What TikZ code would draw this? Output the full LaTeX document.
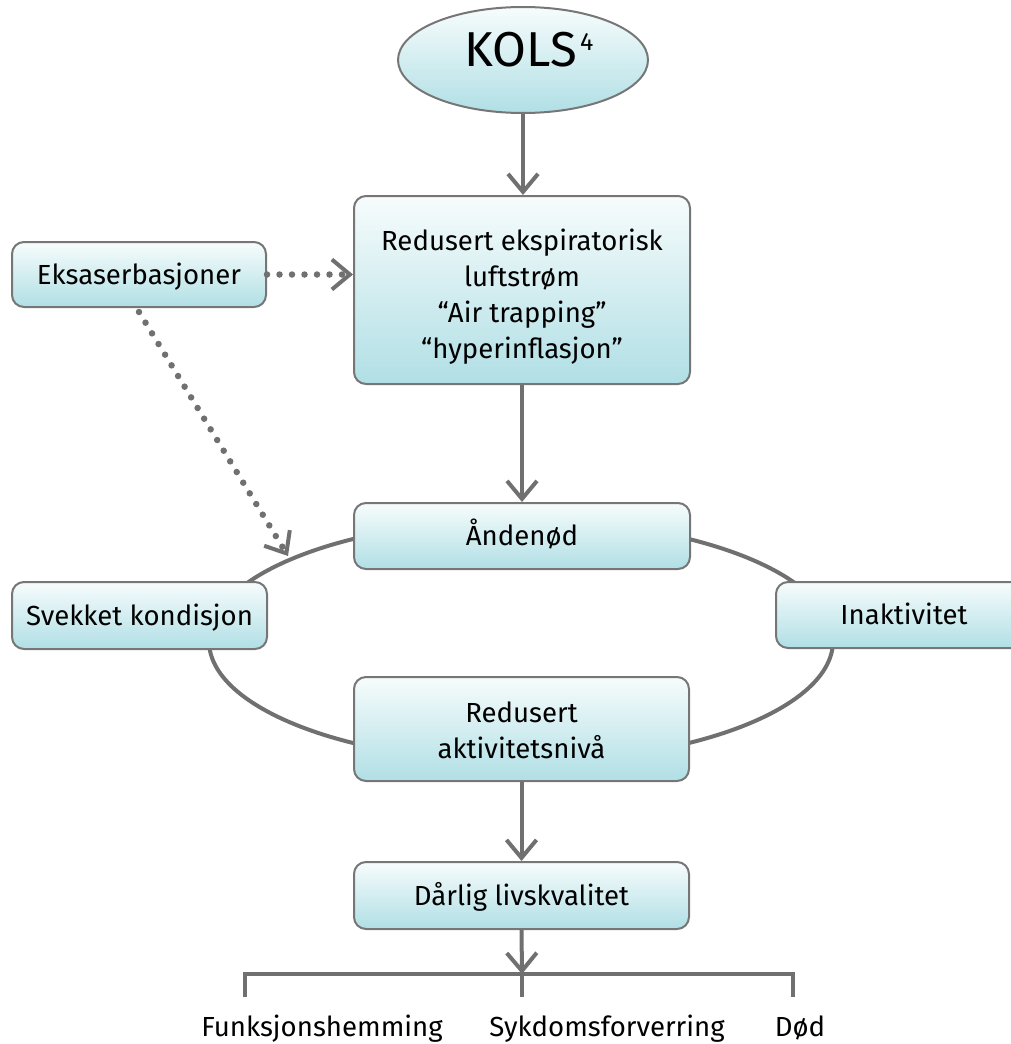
\documentclass[tikz,border=0pt]{standalone}
\usepackage{fontspec}
\setmainfont{Fira Sans}
\usetikzlibrary{arrows.meta,shapes.geometric,backgrounds}
\definecolor{linegray}{RGB}{112,112,112}
\definecolor{bordergray}{RGB}{118,118,118}
\definecolor{boxtop}{RGB}{247,252,252}
\definecolor{boxbot}{RGB}{176,223,229}
\begin{document}
\begin{tikzpicture}[x=1pt,y=-1pt,
  box/.style={draw=bordergray, line width=2pt, rounded corners=12pt,
    top color=boxtop, bottom color=boxbot, align=center, inner sep=0pt,
    font=\fontsize{27.6}{36}\selectfont},
  oneline/.style={text height=19pt, text depth=0pt},
  conn/.style={draw=linegray, line width=4pt,
    -{Straight Barb[length=18pt,width=30pt]}},
  dotconn/.style={draw=linegray, line width=6.5pt, line cap=round,
    dash pattern=on 0pt off 12.5pt,
    -{Straight Barb[length=18pt,width=30pt,line width=4pt]}},
  bracket/.style={draw=linegray, line width=4pt},
  outcome/.style={font=\fontsize{27.6}{34}\selectfont, anchor=base, inner sep=0pt}]
\useasboundingbox (0,0) rectangle (1011,1044);

\node[ellipse, draw=bordergray, line width=2pt, top color=boxtop, bottom color=boxbot,
  minimum width=250pt, minimum height=106pt, inner sep=0pt,
  text height=12pt, text depth=0pt, font=\fontsize{49}{49}\selectfont]
  (kols) at (523,60) {\hspace{12pt}KOLS\kern3pt\raisebox{16pt}{\fontsize{25}{25}\selectfont 4}};

\node[box, minimum width=336pt, minimum height=188pt] (flow) at (522,290)
  {\rule{0pt}{34pt}Redusert ekspiratorisk\\luftstrøm\\“Air trapping”\\“hyperinflasjon”};
\node[box, oneline, minimum width=254pt, minimum height=65pt] (eks) at (139,274.5) {Eksaserbasjoner};
\node[box, oneline, minimum width=336pt, minimum height=66pt] (anden) at (522,536) {Åndenød};
\node[box, oneline, minimum width=255pt, minimum height=67pt] (svekket) at (139.5,615.5) {Svekket kondisjon};
\node[box, oneline, minimum width=256pt, minimum height=66pt] (inakt) at (904,615) {Inaktivitet};
\node[box, minimum width=335pt, minimum height=104pt] (aktiv) at (521.5,729) {\rule{0pt}{23pt}Redusert\\aktivitetsnivå};
\node[box, oneline, minimum width=335pt, minimum height=67pt] (darlig) at (521.5,895.5) {Dårlig livskvalitet};

\coordinate (cyc) at (521,641);
\begin{scope}[on background layer]
  \draw[linegray, line width=4pt] (cyc) ellipse [x radius=312pt, y radius=121pt];
\end{scope}

\draw[conn] (kols.south) -- (kols.south |- flow.north);
\draw[conn] (flow.south) -- (flow.south |- anden.north);
\draw[conn] (aktiv.south) -- (aktiv.south |- darlig.north);

\coordinate (split) at (522,974);
\draw[conn] (darlig.south) -- (split);

\node[outcome] (funk) at (322,1036) {Funksjonshemming};
\node[outcome] (syk) at (607,1036) {Sykdomsforverring};
\node[outcome] (dod) at (800,1036) {Død};

\draw[bracket] (245,997) -- (245,974) -- (793,974) -- (793,997);
\draw[bracket] (split) -- (522,997);

\draw[dotconn] (eks.east) -- (flow.west |- eks.east);
\coordinate (hit) at (288,556);
\draw[dotconn] (139,312) -- (hit);
\end{tikzpicture}
\end{document}
